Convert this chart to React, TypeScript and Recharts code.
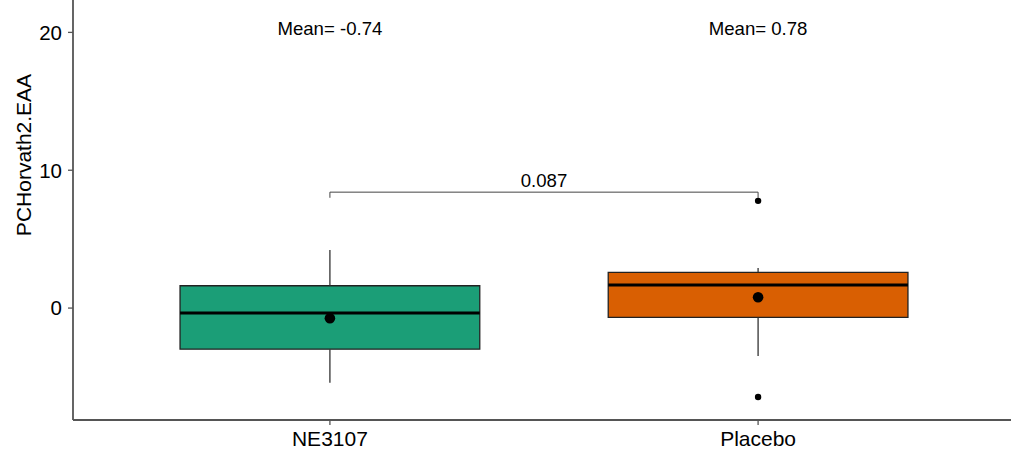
import * as React from "react"
import {
  ComposedChart,
  XAxis,
  YAxis,
  Scatter,
  ReferenceArea,
  ReferenceLine,
  ReferenceDot,
} from "recharts"

const groups = ["NE3107", "Placebo"]
const fills = ["#1B9E77", "#D95F02"]
const whiskerLow = [-5.41, -3.47]
const q1 = [-2.98, -0.68]
const medians = [-0.36, 1.67]
const q3 = [1.62, 2.59]
const whiskerHigh = [4.22, 2.91]
const means = [-0.74, 0.78]
const meanLabels = ["Mean= -0.74", "Mean= 0.78"]
const outlierGroup = [2, 2]
const outlierValues = [7.78, -6.45]
const yTicks = [0, 10, 20]
const pValue = "0.087"
const bracketTop = 8.41
const bracketFoot = 8.0
const meanLabelY = 20.3

const HALF = 0.35
const FONT = "'Liberation Sans', Arial, sans-serif"

const meanData = means.map((m, i) => ({ x: i + 1, y: m }))
const outlierData = outlierValues.map((v, i) => ({ x: outlierGroup[i], y: v }))

function YTitle() {
  return (
    <text
      x={23.5}
      y={155}
      transform="rotate(-90 23.5 155)"
      textAnchor="middle"
      dominantBaseline="central"
      fontSize={21}
      fill="#000"
      fontFamily={FONT}
    >
      PCHorvath2.EAA
    </text>
  )
}

export default function App() {
  const boxes = groups.flatMap((g, i) => {
    const x = i + 1
    return [
      <ReferenceLine
        key={`wl-${g}`}
        segment={[{ x, y: whiskerLow[i] }, { x, y: q1[i] }]}
        stroke="#333"
        strokeWidth={1.3}
      />,
      <ReferenceLine
        key={`wh-${g}`}
        segment={[{ x, y: q3[i] }, { x, y: whiskerHigh[i] }]}
        stroke="#333"
        strokeWidth={1.3}
      />,
      <ReferenceArea
        key={`box-${g}`}
        x1={x - HALF}
        x2={x + HALF}
        y1={q1[i]}
        y2={q3[i]}
        fill={fills[i]}
        fillOpacity={1}
        stroke="#222"
        strokeWidth={1.3}
      />,
      <ReferenceLine
        key={`med-${g}`}
        segment={[{ x: x - HALF, y: medians[i] }, { x: x + HALF, y: medians[i] }]}
        stroke="#000"
        strokeWidth={3}
      />,
      <ReferenceDot
        key={`lab-${g}`}
        x={x}
        y={meanLabelY}
        r={0}
        fill="none"
        stroke="none"
        label={{ value: meanLabels[i], position: "center", fontSize: 18.6, fill: "#000" }}
      />,
    ]
  })

  return (
    <div
      style={{
        position: "absolute",
        left: 0,
        top: 0,
        width: 1011,
        height: 453,
        overflow: "hidden",
        background: "#fff",
        fontFamily: FONT,
      }}
    >
      <ComposedChart
        width={1016}
        height={453}
        margin={{ top: 0, right: 1, bottom: 0, left: 0 }}
      >
        <XAxis
          type="number"
          dataKey="x"
          domain={[0.4, 2.6]}
          ticks={[1, 2]}
          tickFormatter={(v: number) => groups[v - 1] ?? ""}
          allowDataOverflow
          height={33}
          tickSize={5}
          tickMargin={6}
          tick={{ fontSize: 21, fill: "#000" }}
          axisLine={{ stroke: "#555", strokeWidth: 1.8 }}
          tickLine={{ stroke: "#555", strokeWidth: 1.3 }}
        />
        <YAxis
          type="number"
          dataKey="y"
          domain={[-8.12, 22.35]}
          ticks={yTicks}
          allowDataOverflow
          width={73}
          tickSize={5}
          tickMargin={6}
          tick={{ fontSize: 20.5, fill: "#000" }}
          axisLine={{ stroke: "#555", strokeWidth: 1.8 }}
          tickLine={{ stroke: "#555", strokeWidth: 1.3 }}
          label={<YTitle />}
        />
        {boxes}
        <ReferenceLine
          segment={[{ x: 1, y: bracketFoot }, { x: 1, y: bracketTop }]}
          stroke="#444"
          strokeWidth={1}
        />
        <ReferenceLine
          segment={[{ x: 1, y: bracketTop }, { x: 2, y: bracketTop }]}
          stroke="#444"
          strokeWidth={1}
        />
        <ReferenceLine
          segment={[{ x: 2, y: bracketFoot }, { x: 2, y: bracketTop }]}
          stroke="#444"
          strokeWidth={1}
        />
        <ReferenceDot
          x={1.5}
          y={bracketTop}
          r={0}
          fill="none"
          stroke="none"
          label={{ value: pValue, position: "top", offset: 5, fontSize: 18.6, fill: "#000" }}
        />
        <Scatter
          data={outlierData}
          isAnimationActive={false}
          shape={(p: any) => <circle cx={p.cx} cy={p.cy} r={3.2} fill="#000" />}
        />
        <Scatter
          data={meanData}
          isAnimationActive={false}
          shape={(p: any) => <circle cx={p.cx} cy={p.cy} r={5.3} fill="#000" />}
        />
      </ComposedChart>
    </div>
  )
}
